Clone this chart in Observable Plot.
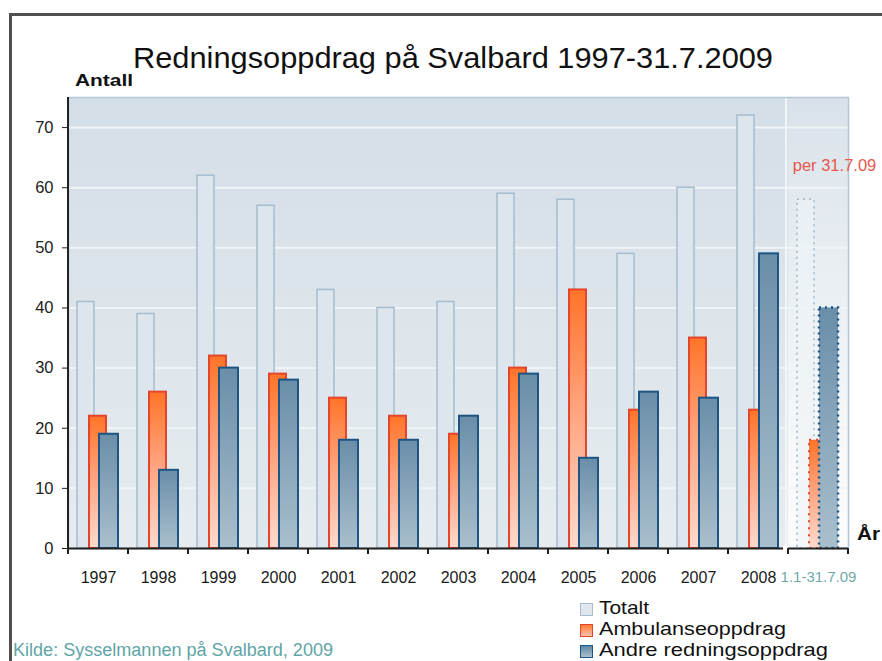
<!DOCTYPE html>
<html>
<head>
<meta charset="utf-8">
<script src="https://cdn.jsdelivr.net/npm/d3@7"></script>
<script src="https://cdn.jsdelivr.net/npm/@observablehq/plot@0.6"></script>
<style>
  html, body { margin: 0; padding: 0; background: #fff; }
  #wrap { position: relative; width: 882px; height: 661px; overflow: hidden; background: #fff; font-family: "Liberation Sans", Arial, sans-serif; }
  #wrap svg { position: absolute; left: 0; top: 0; }
  .t { position: absolute; white-space: nowrap; transform-origin: 0 50%; }
  #border { position: absolute; left: 9px; top: 13px; width: 900px; height: 700px; border-left: 3px solid #505050; border-top: 3px solid #505050; box-sizing: border-box; }
  .sw { position: absolute; width: 11px; height: 11px; box-sizing: content-box; }
</style>
</head>
<body>
<div id="wrap"></div>
<script>
// ---- data ----
const categories = ["1997","1998","1999","2000","2001","2002","2003","2004","2005","2006","2007","2008","1.1-31.7.09"];
const totalt     = [41, 39, 62, 57, 43, 40, 41, 59, 58, 49, 60, 72, 58];
const ambulanse  = [22, 26, 32, 29, 25, 22, 19, 30, 43, 23, 35, 23, 18];
const andre      = [19, 13, 30, 28, 18, 18, 22, 29, 15, 26, 25, 49, 40];
const yTicks     = [0, 10, 20, 30, 40, 50, 60, 70];
const seriesNames = ["Totalt", "Ambulanseoppdrag", "Andre redningsoppdrag"];
const partialNote = "per 31.7.09";
const titleText = "Redningsoppdrag på Svalbard 1997-31.7.2009";
const sourceText = "Kilde: Sysselmannen på Svalbard, 2009";

// ---- table ----
const rows = categories.map((c, i) => ({cat: c, totalt: totalt[i], ambulanse: ambulanse[i], andre: andre[i]}));
const full = rows.slice(0, 12);
const partial = rows.slice(12);
const lastCat = categories[categories.length - 1];

const font = '"Liberation Sans", Arial, sans-serif';
const c0 = () => 0;
const cTop = () => 75;

const chart = Plot.plot({
  width: 882,
  height: 661,
  marginTop: 97,
  marginBottom: 113,
  marginLeft: 68,
  marginRight: 34,
  x: {type: "band", domain: categories, padding: 0, axis: null},
  y: {domain: [0, 75], axis: null},
  style: {fontFamily: font, background: "transparent", overflow: "visible"},
  marks: [
    Plot.frame({fill: "url(#bgGrad)"}),
    Plot.barY(partial, {x: "cat", y1: c0, y2: cTop, insetLeft: 0, insetRight: 0, fill: "url(#lastBg)"}),
    Plot.ruleY(yTicks.slice(1), {stroke: "#f0f4f6", strokeWidth: 2}),
    Plot.barY(partial, {x: "cat", y1: c0, y2: cTop, insetLeft: -3, insetRight: 61, fill: "#f2f6f8"}),
    Plot.frame({stroke: "#b3c6d5", strokeWidth: 1.5}),
    // Totalt
    Plot.barY(full, {x: "cat", y: "totalt", insetLeft: 9, insetRight: 34, fill: "#dee6ed", stroke: "#a6bccd", strokeWidth: 1.5}),
    Plot.barY(partial, {x: "cat", y: "totalt", insetLeft: 9, insetRight: 34, fill: "rgba(238,243,247,0.6)", stroke: "#9fb6c8", strokeWidth: 1.5, strokeDasharray: "2,4"}),
    // Ambulanse
    Plot.barY(full, {x: "cat", y: "ambulanse", insetLeft: 21, insetRight: 22, fill: "url(#ambGrad)", stroke: "#e4452b", strokeWidth: 2}),
    Plot.barY(partial, {x: "cat", y: "ambulanse", insetLeft: 21, insetRight: 22, fill: "url(#ambGrad)", stroke: "#e4452b", strokeWidth: 2, strokeDasharray: "2,5"}),
    // Andre
    Plot.barY(full, {x: "cat", y: "andre", insetLeft: 31, insetRight: 10, fill: "url(#andGrad)", stroke: "#1c5583", strokeWidth: 2}),
    Plot.barY(partial, {x: "cat", y: "andre", insetLeft: 31, insetRight: 10, fill: "url(#andGrad)", stroke: "#1c5583", strokeWidth: 2.5, strokeDasharray: "2,4"}),
    // axes
    Plot.ruleY([0], {stroke: "#222", strokeWidth: 2}),
    Plot.barY(partial, {x: "cat", y1: () => -0.4, y2: () => 0.4, insetLeft: -5, insetRight: 60, fill: "#ffffff"}),
    Plot.barY(categories, {x: d => d, y1: c0, y2: () => -1, insetLeft: -1, insetRight: 59, fill: "#222"}),
    Plot.barY([lastCat], {x: d => d, y1: c0, y2: () => -1, insetLeft: 59, insetRight: -1, fill: "#222"}),
    Plot.barY([categories[0]], {x: d => d, y1: c0, y2: cTop, insetLeft: -1, insetRight: 59, fill: "#222"}),
    Plot.axisY({ticks: yTicks, tickSize: 6, tickPadding: 9, fontSize: 16.5, color: "#222", label: null}),
    Plot.text(categories.slice(0, 12), {x: d => d, y: c0, dy: 29, fontSize: 16, fill: "#1a1a1a"}),
    Plot.text([lastCat], {x: d => d, y: c0, dy: 29, fontSize: 15, fill: "#6fa9aa"}),
    Plot.text([partialNote], {x: () => lastCat, y: () => 63.6, dx: 16, fontSize: 16.5, fill: "#e8574c"})
  ]
});

d3.select(chart).insert("defs", ":first-child").html(`
  <linearGradient id="bgGrad" x1="0" y1="0" x2="0" y2="1">
    <stop offset="0" stop-color="#d4dee7"/>
    <stop offset="1" stop-color="#e6ecef"/>
  </linearGradient>
  <linearGradient id="lastBg" x1="0" y1="0" x2="0" y2="1">
    <stop offset="0" stop-color="#ffffff" stop-opacity="0.1"/>
    <stop offset="1" stop-color="#ffffff" stop-opacity="0.85"/>
  </linearGradient>
  <linearGradient id="ambGrad" x1="0" y1="0" x2="0" y2="1">
    <stop offset="0" stop-color="#ff7428"/>
    <stop offset="0.45" stop-color="#ffa27c"/>
    <stop offset="1" stop-color="#ffdacd"/>
  </linearGradient>
  <linearGradient id="andGrad" x1="0" y1="0" x2="0" y2="1">
    <stop offset="0" stop-color="#6a8ea9"/>
    <stop offset="1" stop-color="#a9bfcd"/>
  </linearGradient>
`);

const wrap = document.getElementById("wrap");
wrap.appendChild(chart);

const border = document.createElement("div");
border.id = "border";
wrap.appendChild(border);

// text helper: place by baseline, optional fit to width
function addText(str, {left, baseline, size, weight = "normal", color = "#111", width = null, lh = 1}) {
  const el = document.createElement("div");
  el.className = "t";
  el.textContent = str;
  el.style.fontSize = size + "px";
  el.style.lineHeight = (lh * size) + "px";
  el.style.fontWeight = weight;
  el.style.color = color;
  el.style.left = left + "px";
  const top = baseline - ((lh * size - 1.117 * size) / 2 + 0.905 * size);
  el.style.top = top + "px";
  wrap.appendChild(el);
  if (width) {
    const w = el.getBoundingClientRect().width;
    el.style.transform = `scaleX(${width / w})`;
  }
  return el;
}

addText(titleText, {left: 133, baseline: 68, size: 30, color: "#111", width: 640});
addText("Antall", {left: 75, baseline: 87, size: 16, weight: "bold", color: "#111", width: 58});
addText("År", {left: 857, baseline: 540, size: 19, weight: "bold", color: "#111", width: 23});
addText(sourceText, {left: 13, baseline: 656, size: 18, color: "#5fa5a7", width: 320});

// legend
const legendBaselines = [615, 636, 657];
const legendWidths = [50, 187, 229];
const swStyles = [
  {bg: "#dfe6ee", bd: "#a9bccc"},
  {bg: "linear-gradient(#ff7a35, #ffc2ad)", bd: "#e4452b"},
  {bg: "linear-gradient(#5f86a3, #a9bfcd)", bd: "#1c5583"}
];
seriesNames.forEach((name, i) => {
  const sw = document.createElement("div");
  sw.className = "sw";
  sw.style.left = "580px";
  sw.style.top = (legendBaselines[i] - 12) + "px";
  sw.style.background = swStyles[i].bg;
  sw.style.border = "1px solid " + swStyles[i].bd;
  wrap.appendChild(sw);
  addText(name, {left: 599, baseline: legendBaselines[i], size: 18.5, color: "#111", width: legendWidths[i], lh: 1});
});
</script>
</body>
</html>
